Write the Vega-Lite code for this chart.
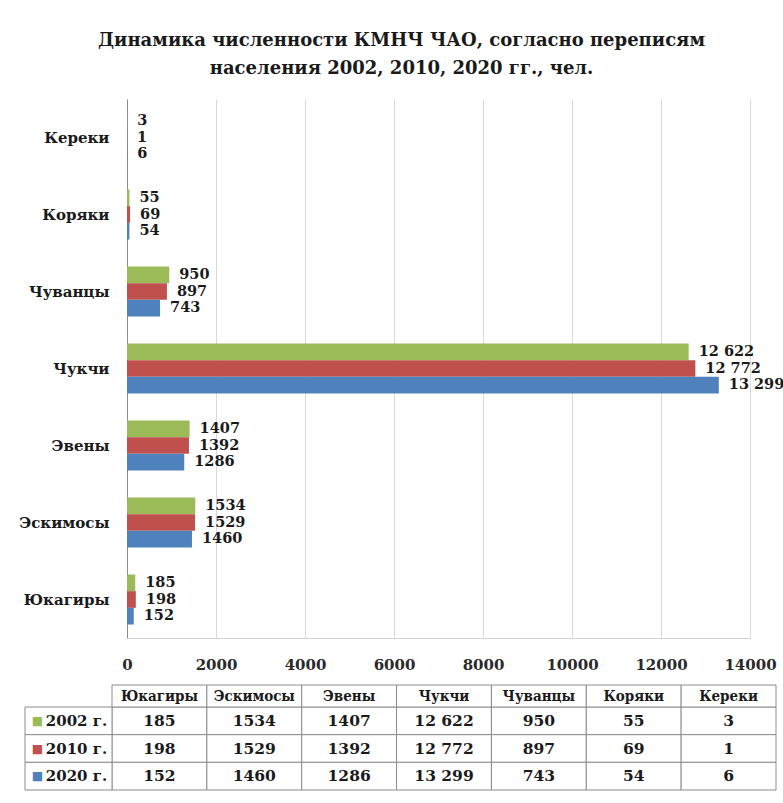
{
  "$schema": "https://vega.github.io/schema/vega-lite/v6.json",
  "padding": {"left": 18, "top": 32, "right": 4, "bottom": 8},
  "background": "white",
  "title": {
    "text": ["Динамика численности КМНЧ ЧАО, согласно переписям", "населения 2002, 2010, 2020 гг., чел."],
    "font": "DejaVu Serif",
    "fontSize": 18,
    "fontWeight": "bold",
    "color": "#1a1a1a",
    "anchor": "middle",
    "lineHeight": 28,
    "offset": 21
  },
  "datasets": {
    "pop": [
      {"people": "Юкагиры", "year": "2002 г.", "value": 185},
      {"people": "Юкагиры", "year": "2010 г.", "value": 198},
      {"people": "Юкагиры", "year": "2020 г.", "value": 152},
      {"people": "Эскимосы", "year": "2002 г.", "value": 1534},
      {"people": "Эскимосы", "year": "2010 г.", "value": 1529},
      {"people": "Эскимосы", "year": "2020 г.", "value": 1460},
      {"people": "Эвены", "year": "2002 г.", "value": 1407},
      {"people": "Эвены", "year": "2010 г.", "value": 1392},
      {"people": "Эвены", "year": "2020 г.", "value": 1286},
      {"people": "Чукчи", "year": "2002 г.", "value": 12622},
      {"people": "Чукчи", "year": "2010 г.", "value": 12772},
      {"people": "Чукчи", "year": "2020 г.", "value": 13299},
      {"people": "Чуванцы", "year": "2002 г.", "value": 950},
      {"people": "Чуванцы", "year": "2010 г.", "value": 897},
      {"people": "Чуванцы", "year": "2020 г.", "value": 743},
      {"people": "Коряки", "year": "2002 г.", "value": 55},
      {"people": "Коряки", "year": "2010 г.", "value": 69},
      {"people": "Коряки", "year": "2020 г.", "value": 54},
      {"people": "Кереки", "year": "2002 г.", "value": 3},
      {"people": "Кереки", "year": "2010 г.", "value": 1},
      {"people": "Кереки", "year": "2020 г.", "value": 6}
    ]
  },
  "bounds": "flush",
  "spacing": 47,
  "resolve": {"scale": {"x": "independent", "y": "independent"}},
  "config": {
    "view": {"stroke": null},
    "font": "DejaVu Serif",
    "axis": {"labelFont": "DejaVu Serif", "labelFontWeight": "bold"}
  },
  "vconcat": [
    {
      "width": 623,
      "height": 539,
      "data": {"name": "pop"},
      "transform": [
        {"calculate": "datum.value >= 10000 ? replace(format(datum.value, ','), ',', ' ') : toString(datum.value)", "as": "lbl"}
      ],
      "encoding": {
        "y": {
          "field": "people",
          "type": "nominal",
          "sort": ["Кереки", "Коряки", "Чуванцы", "Чукчи", "Эвены", "Эскимосы", "Юкагиры"],
          "scale": {"paddingInner": 0.35, "paddingOuter": 0.175},
          "axis": {
            "title": null,
            "ticks": false,
            "labelPadding": 18,
            "labelFontSize": 15,
            "labelColor": "#1a1a1a",
            "domainColor": "#8c8c8c",
            "labelLimit": 200
          }
        },
        "yOffset": {
          "field": "year",
          "type": "nominal",
          "sort": ["2002 г.", "2010 г.", "2020 г."],
          "scale": {"paddingInner": 0, "paddingOuter": 0}
        },
        "x": {
          "field": "value",
          "type": "quantitative",
          "scale": {"domain": [0, 14000], "nice": false},
          "axis": {
            "title": null,
            "values": [0, 2000, 4000, 6000, 8000, 10000, 12000, 14000],
            "format": "d",
            "ticks": false,
            "labelPadding": 19,
            "labelFontSize": 15,
            "labelColor": "#2a2a2a",
            "domainColor": "#d0d0d0",
            "gridColor": "#d9d9d9",
            "labelFlush": false
          }
        }
      },
      "layer": [
        {
          "mark": {"type": "bar"},
          "encoding": {
            "color": {
              "field": "year",
              "type": "nominal",
              "scale": {"domain": ["2002 г.", "2010 г.", "2020 г."], "range": ["#9bbb59", "#c0504d", "#4f81bd"]},
              "legend": null
            }
          }
        },
        {
          "mark": {"type": "text", "align": "left", "baseline": "middle", "dx": 10, "fontSize": 14.5, "fontWeight": "bold", "font": "DejaVu Serif", "color": "#1a1a1a"},
          "encoding": {"text": {"field": "lbl"}}
        }
      ]
    },
    {
      "width": 623,
      "height": 105,
      "resolve": {"scale": {"x": "independent", "y": "independent"}},
      "layer": [
        {
          "data": {"name": "pop"},
          "mark": {"type": "rect", "fill": "white", "stroke": "#8c8c8c", "strokeWidth": 1},
          "encoding": {
            "x": {"field": "people", "type": "nominal", "axis": null,
              "scale": {"domain": ["Юкагиры", "Эскимосы", "Эвены", "Чукчи", "Чуванцы", "Коряки", "Кереки"], "range": [-15, 649], "paddingInner": 0, "paddingOuter": 0}},
            "y": {"field": "year", "type": "nominal", "axis": null,
              "scale": {"domain": ["2002 г.", "2010 г.", "2020 г."], "range": [22, 105], "paddingInner": 0, "paddingOuter": 0}}
          }
        },
        {
          "data": {"name": "pop"},
          "transform": [
            {"aggregate": [{"op": "count", "as": "n"}], "groupby": ["people"]},
            {"calculate": "'header'", "as": "hrow"}
          ],
          "mark": {"type": "rect", "fill": "white", "stroke": "#8c8c8c", "strokeWidth": 1},
          "encoding": {
            "x": {"field": "people", "type": "nominal", "axis": null,
              "scale": {"domain": ["Юкагиры", "Эскимосы", "Эвены", "Чукчи", "Чуванцы", "Коряки", "Кереки"], "range": [-15, 649], "paddingInner": 0, "paddingOuter": 0}},
            "y": {"field": "hrow", "type": "nominal", "axis": null,
              "scale": {"domain": ["header"], "range": [0, 22], "paddingInner": 0, "paddingOuter": 0}}
          }
        },
        {
          "data": {"name": "pop"},
          "transform": [
            {"aggregate": [{"op": "count", "as": "n"}], "groupby": ["year"]},
            {"calculate": "'label'", "as": "col"}
          ],
          "mark": {"type": "rect", "fill": "white", "stroke": "#8c8c8c", "strokeWidth": 1},
          "encoding": {
            "x": {"field": "col", "type": "nominal", "axis": null,
              "scale": {"domain": ["label"], "range": [-102, -15], "paddingInner": 0, "paddingOuter": 0}},
            "y": {"field": "year", "type": "nominal", "axis": null,
              "scale": {"domain": ["2002 г.", "2010 г.", "2020 г."], "range": [22, 105], "paddingInner": 0, "paddingOuter": 0}}
          }
        },
        {
          "data": {"name": "pop"},
          "transform": [
            {"calculate": "datum.value >= 10000 ? replace(format(datum.value, ','), ',', ' ') : toString(datum.value)", "as": "lbl"}
          ],
          "mark": {"type": "text", "fontSize": 15.5, "fontWeight": "bold", "font": "DejaVu Serif", "color": "#1a1a1a", "baseline": "middle"},
          "encoding": {
            "x": {"field": "people", "type": "nominal", "axis": null,
              "scale": {"domain": ["Юкагиры", "Эскимосы", "Эвены", "Чукчи", "Чуванцы", "Коряки", "Кереки"], "range": [-15, 649], "paddingInner": 0, "paddingOuter": 0}},
            "y": {"field": "year", "type": "nominal", "axis": null,
              "scale": {"domain": ["2002 г.", "2010 г.", "2020 г."], "range": [22, 105], "paddingInner": 0, "paddingOuter": 0}},
            "text": {"field": "lbl"}
          }
        },
        {
          "data": {"name": "pop"},
          "transform": [
            {"aggregate": [{"op": "count", "as": "n"}], "groupby": ["people"]},
            {"calculate": "'header'", "as": "hrow"}
          ],
          "mark": {"type": "text", "fontSize": 15, "fontWeight": "bold", "font": "DejaVu Serif Condensed", "color": "#1a1a1a", "baseline": "middle"},
          "encoding": {
            "x": {"field": "people", "type": "nominal", "axis": null,
              "scale": {"domain": ["Юкагиры", "Эскимосы", "Эвены", "Чукчи", "Чуванцы", "Коряки", "Кереки"], "range": [-15, 649], "paddingInner": 0, "paddingOuter": 0}},
            "y": {"field": "hrow", "type": "nominal", "axis": null,
              "scale": {"domain": ["header"], "range": [0, 22], "paddingInner": 0, "paddingOuter": 0}},
            "text": {"field": "people"}
          }
        },
        {
          "data": {"name": "pop"},
          "transform": [
            {"aggregate": [{"op": "count", "as": "n"}], "groupby": ["year"]},
            {"calculate": "'label'", "as": "col"}
          ],
          "mark": {"type": "text", "fontSize": 15, "fontWeight": "bold", "font": "DejaVu Serif", "color": "#1a1a1a", "baseline": "middle", "dx": 8},
          "encoding": {
            "x": {"field": "col", "type": "nominal", "axis": null,
              "scale": {"domain": ["label"], "range": [-102, -15], "paddingInner": 0, "paddingOuter": 0}},
            "y": {"field": "year", "type": "nominal", "axis": null,
              "scale": {"domain": ["2002 г.", "2010 г.", "2020 г."], "range": [22, 105], "paddingInner": 0, "paddingOuter": 0}},
            "text": {"field": "year"}
          }
        },
        {
          "data": {"name": "pop"},
          "transform": [
            {"aggregate": [{"op": "count", "as": "n"}], "groupby": ["year"]},
            {"calculate": "'label'", "as": "col"}
          ],
          "mark": {"type": "text", "fontSize": 12, "font": "DejaVu Sans", "baseline": "middle", "dx": -31, "text": "■"},
          "encoding": {
            "x": {"field": "col", "type": "nominal", "axis": null,
              "scale": {"domain": ["label"], "range": [-102, -15], "paddingInner": 0, "paddingOuter": 0}},
            "y": {"field": "year", "type": "nominal", "axis": null,
              "scale": {"domain": ["2002 г.", "2010 г.", "2020 г."], "range": [22, 105], "paddingInner": 0, "paddingOuter": 0}},
            "color": {"field": "year", "type": "nominal", "legend": null,
              "scale": {"domain": ["2002 г.", "2010 г.", "2020 г."], "range": ["#9bbb59", "#c0504d", "#4f81bd"]}}
          }
        }
      ]
    }
  ]
}
